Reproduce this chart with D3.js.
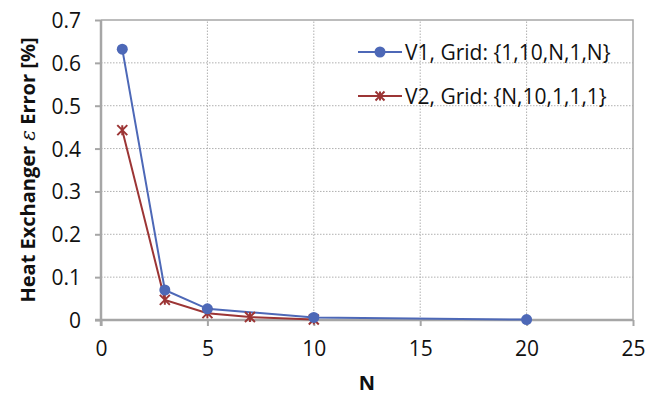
<!DOCTYPE html>
<html>
<head>
<meta charset="utf-8">
<script src="https://cdn.jsdelivr.net/npm/d3@7"></script>
<style>
  body { margin: 0; background: #fff; }
  text { font-family: "Open Sans", sans-serif; fill: #111; }
</style>
</head>
<body>
<svg id="chart" width="659" height="398"></svg>
<script>
const v1N = [1, 3, 5, 10, 20]
const v1Err = [0.632, 0.070, 0.026, 0.006, 0.001]
const v2N = [1, 3, 5, 7, 10]
const v2Err = [0.443, 0.047, 0.016, 0.007, 0.001]
const xTicks = [0, 5, 10, 15, 20, 25]
const yTicks = [0, 0.1, 0.2, 0.3, 0.4, 0.5, 0.6, 0.7]
const seriesNames = ['V1, Grid: {1,10,N,1,N}', 'V2, Grid: {N,10,1,1,1}']

const blue = '#4d68b7'
const red = '#9c3535'
const axisGray = '#a6a6a6'

const svg = d3.select('#chart')
const margin = { left: 101, right: 26, top: 20, bottom: 78 }
const W = 659, H = 398

const x = d3.scaleLinear().domain([0, 25]).range([margin.left, W - margin.right])
const y = d3.scaleLinear().domain([0, 0.7]).range([H - margin.bottom, margin.top])

// gridlines
svg.append('g')
  .selectAll('line')
  .data(yTicks.filter(d => d > 0 && d < 0.7))
  .join('line')
  .attr('x1', x(0)).attr('x2', x(25))
  .attr('y1', d => y(d)).attr('y2', d => y(d))
  .attr('stroke', '#b0b0b0').attr('stroke-width', 1)
  .attr('stroke-dasharray', '1.5,1.5')

svg.append('g')
  .selectAll('line')
  .data(xTicks.filter(d => d > 0 && d < 25))
  .join('line')
  .attr('x1', d => x(d)).attr('x2', d => x(d))
  .attr('y1', y(0)).attr('y2', y(0.7))
  .attr('stroke', '#b0b0b0').attr('stroke-width', 1)
  .attr('stroke-dasharray', '1.5,1.5')

// plot border top/right
svg.append('path')
  .attr('d', `M${x(0)},${y(0.7)}H${x(25)}V${y(0)}`)
  .attr('fill', 'none')
  .attr('stroke', axisGray)
  .attr('stroke-width', 1.5)

// axes
const xAxis = d3.axisBottom(x).tickValues(xTicks).tickSize(6).tickPadding(15)
const yAxis = d3.axisLeft(y).tickValues(yTicks).tickSize(6).tickPadding(14)
  .tickFormat(d => d === 0 ? '0' : d3.format('.1f')(d))

const gx = svg.append('g')
  .attr('transform', `translate(0,${y(0)})`)
  .call(xAxis)
gx.select('.domain').attr('d', `M${x(0) - 6},0H${x(25)}`)

const gy = svg.append('g')
  .attr('transform', `translate(${x(0)},0)`)
  .call(yAxis)
gy.select('.domain').attr('d', `M0,${y(0.7)}V${y(0) + 6}`)

;[gx, gy].forEach(g => {
  g.selectAll('.domain').attr('stroke', axisGray).attr('stroke-width', 2.5)
  g.selectAll('.tick line').attr('stroke', axisGray).attr('stroke-width', 2)
  g.selectAll('.tick text')
    .attr('font-family', '"Open Sans", sans-serif')
    .attr('font-size', 21)
    .attr('fill', '#111')
})
gy.selectAll('.tick text').attr('dy', '0.36em')

// axis titles
svg.append('text')
  .attr('x', x(12.5))
  .attr('y', 390)
  .attr('text-anchor', 'middle')
  .attr('font-size', 20)
  .attr('font-weight', 'bold')
  .text('N')

const yTitle = svg.append('text')
  .attr('transform', `translate(35,${y(0.35)}) rotate(-90)`)
  .attr('text-anchor', 'middle')
  .attr('font-size', 20)
  .attr('font-weight', 'bold')
yTitle.append('tspan').text('Heat Exchanger ')
yTitle.append('tspan')
  .attr('font-family', '"DejaVu Serif", serif')
  .attr('font-style', 'italic')
  .attr('font-weight', 'normal')
  .text('ε')
yTitle.append('tspan').text(' Error [%]')

// series
const line = d3.line()
const v1Pts = v1N.map((n, i) => [x(n), y(v1Err[i])])
const v2Pts = v2N.map((n, i) => [x(n), y(v2Err[i])])

svg.append('path')
  .attr('d', line(v2Pts))
  .attr('fill', 'none')
  .attr('stroke', red)
  .attr('stroke-width', 2)

svg.append('path')
  .attr('d', line(v1Pts))
  .attr('fill', 'none')
  .attr('stroke', blue)
  .attr('stroke-width', 2)

const star = (g, cx, cy, s) => {
  g.append('path')
    .attr('d', `M${cx - s},${cy - s}L${cx + s},${cy + s}M${cx - s},${cy + s}L${cx + s},${cy - s}M${cx},${cy - s}V${cy + s}`)
    .attr('stroke', red)
    .attr('stroke-width', 2)
    .attr('fill', 'none')
}

const markers = svg.append('g')
v2Pts.forEach(p => star(markers, p[0], p[1], 5))

markers.selectAll('circle')
  .data(v1Pts)
  .join('circle')
  .attr('cx', d => d[0])
  .attr('cy', d => d[1])
  .attr('r', 5.5)
  .attr('fill', blue)

// legend
const legend = svg.append('g')
const legRows = [52, 96]
legRows.forEach((ly, i) => {
  legend.append('line')
    .attr('x1', 358).attr('x2', 402)
    .attr('y1', ly).attr('y2', ly)
    .attr('stroke', i === 0 ? blue : red)
    .attr('stroke-width', 2)
  if (i === 0) {
    legend.append('circle').attr('cx', 380).attr('cy', ly).attr('r', 5.5).attr('fill', blue)
  } else {
    star(legend, 380, ly, 4.5)
  }
  legend.append('text')
    .attr('x', 405)
    .attr('y', ly)
    .attr('dy', '0.36em')
    .attr('font-size', 21)
    .text(seriesNames[i])
})
</script>
</body>
</html>
